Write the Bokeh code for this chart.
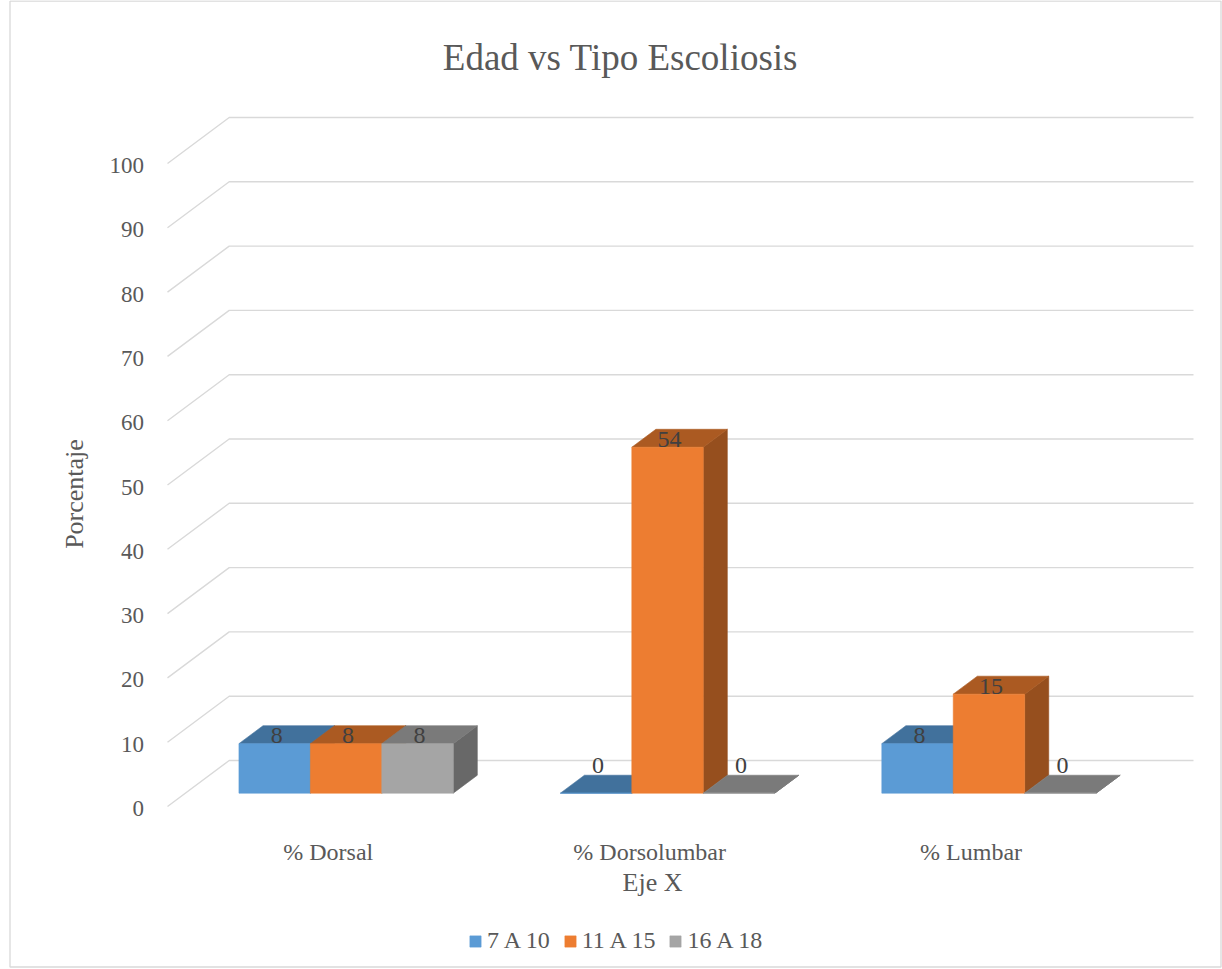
import math
from bokeh.plotting import figure
from bokeh.models import Range1d, Legend, LegendItem
from bokeh.core.properties import value
from bokeh.embed import file_html
from bokeh.resources import INLINE

# ---------------- data ----------------
chart_title = "Edad vs Tipo Escoliosis"
categories = ["% Dorsal", "% Dorsolumbar", "% Lumbar"]
series_names = ["7 A 10", "11 A 15", "16 A 18"]
vals_7_10 = [7.7, 0.0, 7.7]
vals_11_15 = [7.7, 53.8, 15.4]
vals_16_18 = [7.7, 0.0, 0.0]
y_ticks = [0, 10, 20, 30, 40, 50, 60, 70, 80, 90, 100]
y_title = "Porcentaje"
x_title = "Eje X"

series_values = [vals_7_10, vals_11_15, vals_16_18]

# ---------------- styling / geometry ----------------
W, H = 1222, 969
PX_X0 = 167.0      # screen x of category origin on the front plane
PX_CAT = 321.43    # px per category
PX_Y0 = 806.0      # screen y of value 0 on the front plane
PX_PCT = 6.43      # px per percent
DX_U = 61.7 / PX_CAT   # full-depth shift in category units
DY_V = 46.0 / PX_PCT   # full-depth shift in percent units
Z_FRONT, Z_BACK = 0.29, 0.68
GAP = 1.0 / 6.0
BAR_W = (1.0 - 2 * GAP) / 3.0

front_cols = ["#5B9BD5", "#ED7D31", "#A5A5A5"]
top_cols = ["#41719C", "#AB5A22", "#7A7A7A"]
side_cols = ["#3A6690", "#964F1E", "#686868"]
grid_col = "#D9D9D9"
txt_col = "#595959"
lbl_col = "#404040"
FONT = "Liberation Serif"


def sx(px):
    return (px - PX_X0) / PX_CAT


def sy(py):
    return (PX_Y0 - py) / PX_PCT


def proj(u, v, z):
    return u + z * DX_U, v + z * DY_V


p = figure(width=W, height=H, output_backend="svg", toolbar_location=None,
           x_range=Range1d(sx(0), sx(W)), y_range=Range1d(sy(H), sy(0)),
           x_axis_location=None, y_axis_location=None, min_border=0)
p.title.visible = False
p.outline_line_color = None
p.xgrid.visible = False
p.ygrid.visible = False

# chart area border
p.multi_line(xs=[[sx(9.5), sx(9.5), sx(1220.5), sx(1220.5), sx(9.5)]],
             ys=[[sy(0.5), sy(966.5), sy(966.5), sy(0.5), sy(0.5)]],
             line_color=grid_col, line_width=1.3)

# gridlines: diagonal along the side + horizontal on the back wall
gx, gy = [], []
for t in y_ticks:
    a = proj(0, t, 0)
    b = proj(0, t, 1)
    c = proj(len(categories), t, 1)
    gx.append([a[0], b[0], c[0]])
    gy.append([a[1], b[1], c[1]])
p.multi_line(xs=gx, ys=gy, line_color=grid_col, line_width=1.4)

# 3-D bars (side, top, front faces)
legend_items = []
for j, (name, vals) in enumerate(zip(series_names, series_values)):
    fx, fy, tx, ty, kx, ky = [], [], [], [], [], []
    for i, v in enumerate(vals):
        u0 = i + GAP + j * BAR_W
        u1 = u0 + BAR_W
        pts = [proj(u0, 0, Z_FRONT), proj(u1, 0, Z_FRONT), proj(u1, v, Z_FRONT), proj(u0, v, Z_FRONT)]
        fx.append([q[0] for q in pts]); fy.append([q[1] for q in pts])
        pts = [proj(u0, v, Z_FRONT), proj(u1, v, Z_FRONT), proj(u1, v, Z_BACK), proj(u0, v, Z_BACK)]
        tx.append([q[0] for q in pts]); ty.append([q[1] for q in pts])
        pts = [proj(u1, 0, Z_FRONT), proj(u1, 0, Z_BACK), proj(u1, v, Z_BACK), proj(u1, v, Z_FRONT)]
        kx.append([q[0] for q in pts]); ky.append([q[1] for q in pts])
    p.patches(kx, ky, fill_color=side_cols[j], line_color=side_cols[j], line_width=0.6)
    p.patches(tx, ty, fill_color=top_cols[j], line_color=top_cols[j], line_width=0.6)
    r = p.patches(fx, fy, fill_color=front_cols[j], line_color=front_cols[j], line_width=0.6)
    legend_items.append(LegendItem(label=name, renderers=[r]))

# data labels
lx, ly, lt = [], [], []
for j, vals in enumerate(series_values):
    for i, v in enumerate(vals):
        u_c = i + GAP + (j + 0.5) * BAR_W
        cx, cy = proj(u_c, v, Z_FRONT)
        off = 8 if v > 0 else 28
        lx.append(cx + 2 / PX_CAT)
        ly.append(cy + off / PX_PCT)
        lt.append(f"{v:.0f}")
p.text(x=lx, y=ly, text=lt, text_align="center", text_baseline="alphabetic",
       text_font=value(FONT), text_font_size="24px", text_color=lbl_col)

# value-axis tick labels
p.text(x=[sx(143.5)] * len(y_ticks), y=[t - 2 / PX_PCT for t in y_ticks],
       text=[str(t) for t in y_ticks], text_align="right", text_baseline="middle",
       text_font=value(FONT), text_font_size="23px", text_color=txt_col)

# category labels
p.text(x=[i + 0.5 for i in range(len(categories))], y=[sy(851.5)] * len(categories),
       text=categories, text_align="center", text_baseline="alphabetic",
       text_font=value(FONT), text_font_size="24px", text_color=txt_col)

# axis titles
p.text(x=[sx(652)], y=[sy(882)], text=[x_title], text_align="center",
       text_baseline="alphabetic", text_font=value(FONT), text_font_size="26px",
       text_color=txt_col)
p.text(x=[sx(74)], y=[sy(493.5)], text=[y_title], angle=math.pi / 2,
       text_align="center", text_baseline="middle", text_font=value(FONT),
       text_font_size="26px", text_color=txt_col)

# chart title
p.text(x=[sx(620)], y=[sy(56.5)], text=[chart_title], text_align="center",
       text_baseline="alphabetic", text_font=value(FONT), text_font_size="37px",
       text_color=txt_col)

legend = Legend(items=legend_items, orientation="horizontal", location=(468, 15),
                padding=0, margin=0, spacing=13, label_standoff=5,
                glyph_width=14, glyph_height=14,
                label_text_font=FONT, label_text_font_size="24px",
                label_text_color=txt_col, border_line_color=None,
                background_fill_alpha=0)
p.add_layout(legend, "center")

open("out.html", "w").write(file_html(p, INLINE))
